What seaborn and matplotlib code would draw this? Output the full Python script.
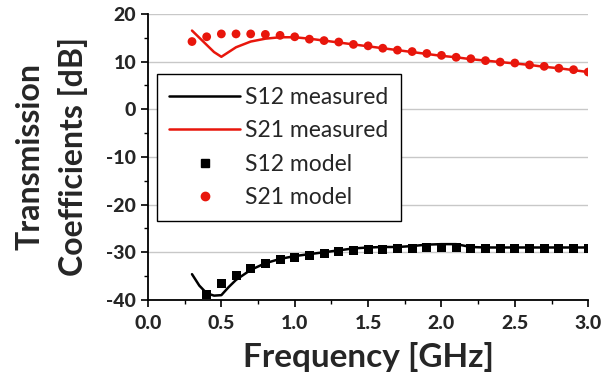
"""
Coeficientes de transmissão S12 / S21: medido vs. modelo.
"""

import matplotlib
matplotlib.use("Agg")
import matplotlib.pyplot as plt
from matplotlib.ticker import MultipleLocator
from matplotlib.lines import Line2D
import seaborn as sns

# --- dados ---
freq_meas = [0.3, 0.35, 0.4, 0.45, 0.5, 0.55, 0.6, 0.7, 0.8, 0.9, 1.0, 1.1, 1.2, 1.3,
             1.4, 1.5, 1.6, 1.7, 1.8, 1.9, 2.0, 2.1, 2.2, 2.3, 2.4, 2.5, 2.6, 2.7,
             2.8, 2.9, 3.0]
s21_meas = [16.5, 15.0, 13.5, 12.0, 11.0, 12.0, 13.0, 14.2, 14.8, 15.1, 15.1, 14.8,
            14.4, 14.0, 13.6, 13.2, 12.8, 12.4, 12.0, 11.6, 11.2, 10.9, 10.5, 10.2,
            9.9, 9.6, 9.3, 8.9, 8.6, 8.2, 7.8]
s12_meas = [-34.6, -37.0, -38.6, -39.1, -39.0, -37.3, -35.8, -33.7, -32.3, -31.4,
            -30.8, -30.4, -30.0, -29.6, -29.2, -29.0, -28.9, -28.9, -28.7, -28.4,
            -28.3, -28.3, -28.9, -29.0, -29.0, -29.0, -29.0, -29.0, -29.0, -29.0,
            -29.0]

freq_s21_model = [0.3, 0.4, 0.5, 0.6, 0.7, 0.8, 0.9, 1.0, 1.1, 1.2, 1.3, 1.4, 1.5,
                  1.6, 1.7, 1.8, 1.9, 2.0, 2.1, 2.2, 2.3, 2.4, 2.5, 2.6, 2.7, 2.8,
                  2.9, 3.0]
s21_model = [14.2, 15.2, 15.8, 15.8, 15.8, 15.7, 15.5, 15.2, 14.7, 14.4, 14.1, 13.6,
             13.3, 12.8, 12.4, 12.1, 11.7, 11.3, 10.9, 10.6, 10.2, 9.9, 9.7, 9.3,
             9.0, 8.6, 8.3, 7.8]

freq_s12_model = [0.4, 0.5, 0.6, 0.7, 0.8, 0.9, 1.0, 1.1, 1.2, 1.3, 1.4, 1.5, 1.6,
                  1.7, 1.8, 1.9, 2.0, 2.1, 2.2, 2.3, 2.4, 2.5, 2.6, 2.7, 2.8, 2.9, 3.0]
s12_model = [-38.8, -36.5, -34.9, -33.5, -32.4, -31.6, -31.0, -30.7, -30.2, -29.9,
             -29.7, -29.5, -29.4, -29.3, -29.2, -28.9, -28.9, -29.0, -29.2, -29.2,
             -29.2, -29.2, -29.2, -29.2, -29.2, -29.2, -29.2]

labels = ["S12 measured", "S21 measured", "S12 model", "S21 model"]

sns.set_style("ticks")
plt.rcParams["font.family"] = ["Lato", "DejaVu Sans"]
plt.rcParams["axes.unicode_minus"] = False

red = "#e8160c"
fig, ax = plt.subplots(figsize=(6.14, 3.86), dpi=100)

sns.lineplot(x=freq_meas, y=s12_meas, color="black", lw=1.8, ax=ax)
sns.lineplot(x=freq_meas, y=s21_meas, color=red, lw=1.8, ax=ax)
sns.scatterplot(x=freq_s12_model, y=s12_model, marker="s", s=42, color="black",
                edgecolor="none", ax=ax, zorder=3)
sns.scatterplot(x=freq_s21_model, y=s21_model, marker="o", s=40, color=red,
                edgecolor="none", ax=ax, zorder=3)

ax.set_xlim(0, 3.0)
ax.set_ylim(-40, 20)
ax.xaxis.set_major_locator(MultipleLocator(0.5))
ax.xaxis.set_minor_locator(MultipleLocator(0.25))
ax.yaxis.set_major_locator(MultipleLocator(10))
ax.yaxis.set_minor_locator(MultipleLocator(5))
ax.xaxis.set_major_formatter(plt.FuncFormatter(lambda v, p: f"{v:.1f}"))
ax.grid(axis="y", which="major", color="#c8c8c8", lw=1)
ax.set_axisbelow(True)
sns.despine(ax=ax)
for sp in ["left", "bottom"]:
    ax.spines[sp].set_linewidth(1.3)
    ax.spines[sp].set_color("black")
ax.tick_params(which="major", length=5, width=1.2, labelsize=14, color="black")
ax.tick_params(axis="x", which="major", pad=6)
ax.tick_params(which="minor", length=3, width=1.0, color="black")
for lab in ax.get_xticklabels() + ax.get_yticklabels():
    lab.set_fontweight("black")

ax.set_xlabel("Frequency [GHz]", fontsize=24, fontweight="bold", labelpad=7)
ax.set_ylabel("Transmission\nCoefficients [dB]", fontsize=23, fontweight="bold",
              labelpad=13, linespacing=1.55)

handles = [
    Line2D([], [], color="black", lw=1.8),
    Line2D([], [], color=red, lw=1.8),
    Line2D([], [], color="black", marker="s", ls="none", ms=6),
    Line2D([], [], color=red, marker="o", ls="none", ms=6),
]
leg = ax.legend(handles, labels, loc="upper left", bbox_to_anchor=(0.02, 0.79),
                fontsize=16.5, frameon=True, fancybox=False, edgecolor="black",
                handlelength=3.1, handletextpad=0.2, borderpad=0.55,
                labelspacing=0.55, borderaxespad=0, framealpha=1)
leg.get_frame().set_linewidth(1.0)

fig.subplots_adjust(left=0.241, right=0.958, bottom=0.223, top=0.964)
fig.savefig("out.png", dpi=100)
